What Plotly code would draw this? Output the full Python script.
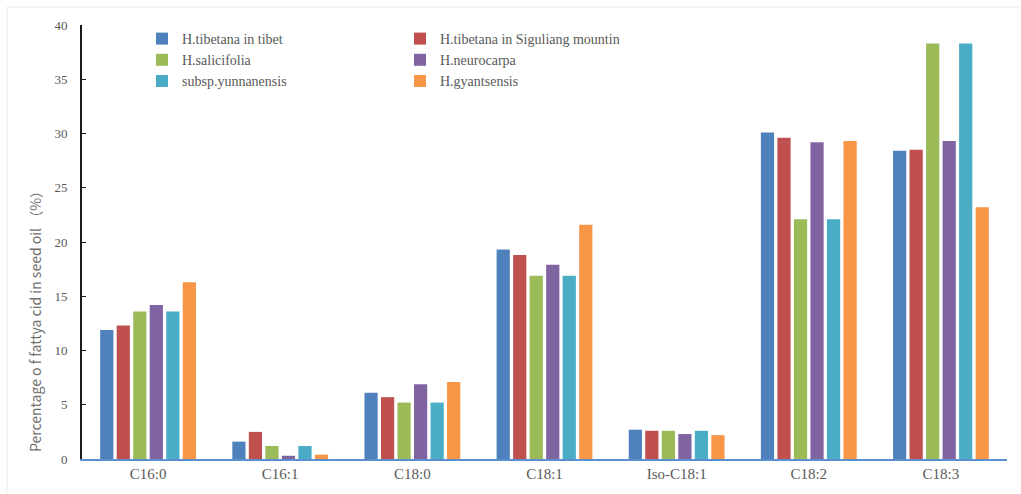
import plotly.graph_objects as go

categories = ["C16:0", "C16:1", "C18:0", "C18:1", "Iso-C18:1", "C18:2", "C18:3"]

tibet = [11.9, 1.6, 6.1, 19.3, 2.7, 30.1, 28.4]
siguliang = [12.3, 2.5, 5.7, 18.8, 2.6, 29.6, 28.5]
salicifolia = [13.6, 1.2, 5.2, 16.9, 2.6, 22.1, 38.3]
neurocarpa = [14.2, 0.3, 6.9, 17.9, 2.3, 29.2, 29.3]
yunnanensis = [13.6, 1.2, 5.2, 16.9, 2.6, 22.1, 38.3]
gyantsensis = [16.3, 0.4, 7.1, 21.6, 2.2, 29.3, 23.2]

series = [
    ("H.tibetana in tibet", tibet, "#4F81BD", "legend"),
    ("H.tibetana in Siguliang mountin", siguliang, "#C0504D", "legend2"),
    ("H.salicifolia", salicifolia, "#9BBB59", "legend"),
    ("H.neurocarpa", neurocarpa, "#8064A2", "legend2"),
    ("subsp.yunnanensis", yunnanensis, "#4BACC6", "legend"),
    ("H.gyantsensis", gyantsensis, "#F79646", "legend2"),
]

fig = go.Figure()
for name, vals, color, leg in series:
    fig.add_trace(go.Bar(
        x=categories, y=vals, name=name, marker_color=color,
        marker_line_width=0, legend=leg,
    ))

legend_style = dict(
    orientation="v", bgcolor="rgba(0,0,0,0)",
    font=dict(family="Liberation Serif", size=14, color="#595959"),
    itemwidth=30, tracegroupgap=0, yanchor="top", xanchor="left",
)

# plot area spans x 82..1007 px and y 25..459 px
L, R, T, B = 82, 14, 25, 35
PW, PH = 1021 - L - R, 494 - T - B


def px(x):
    return (x - L) / PW


def py(y):
    return (494 - B - y) / PH


fig.update_layout(
    width=1021, height=494,
    margin=dict(l=L, r=R, t=T, b=B),
    paper_bgcolor="white", plot_bgcolor="white",
    barmode="group", bargap=0.25, bargroupgap=0.2,
    font=dict(family="Liberation Serif", size=13, color="#595959"),
    legend=dict(x=px(142), y=py(23), **legend_style),
    legend2=dict(x=px(400), y=py(23), **legend_style),
    xaxis=dict(
        showline=True, linecolor="#5B8FD0", linewidth=2,
        ticks="", showgrid=False,
        tickfont=dict(family="Liberation Serif", size=15, color="#595959"),
    ),
    yaxis=dict(
        range=[0, 40], dtick=5, showgrid=False, zeroline=False,
        showline=True, linecolor="#1a1a1a", linewidth=2,
        ticks="inside", ticklen=4, tickcolor="#1a1a1a",
        ticklabelstandoff=10,
        tickfont=dict(family="Liberation Serif", size=13, color="#595959"),
    ),
    annotations=[dict(
        text="Percentage o f fattya cid in seed oil （%）",
        xref="paper", yref="paper", x=px(35), y=py(318),
        xanchor="center", yanchor="middle", textangle=-90, showarrow=False,
        font=dict(family="Noto Sans CJK SC", size=14, color="#707070"),
    )],
    shapes=[
        dict(type="line", xref="paper", yref="paper",
             x0=px(7), x1=px(7), y0=py(7), y1=py(494),
             line=dict(color="#ececec", width=1)),
        dict(type="line", xref="paper", yref="paper",
             x0=px(7), x1=px(1021), y0=py(7), y1=py(7),
             line=dict(color="#ececec", width=1)),
    ],
)

fig.write_html("out.html")
